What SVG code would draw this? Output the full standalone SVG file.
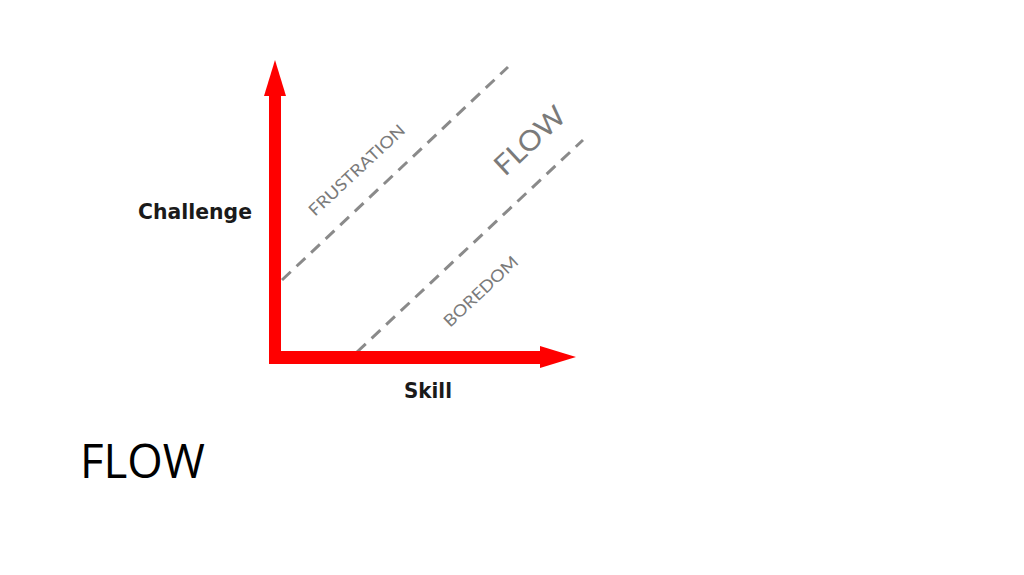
<svg xmlns="http://www.w3.org/2000/svg" width="1024" height="575" viewBox="0 0 1024 575">
<style>
.axis{fill:#ff0000;stroke:none}
.dash{stroke:#8a8a8a;stroke-width:3;stroke-dasharray:12 8;fill:none}
.zone{font-family:Lato,"Open Sans",sans-serif;fill:#7a7a7a}
.lbl{font-family:"DejaVu Sans",Verdana,sans-serif;font-weight:bold;fill:#1a1a1a}
.title{font-family:"Open Sans",Lato,sans-serif;fill:#000}
</style>
<rect width="1024" height="575" fill="#fff"/>
<g id="connectors">
<path class="dash" d="M282 280 L508 67"/>
<path class="dash" d="M357 352 L583 140"/>
</g>
<g id="y-axis">
<rect class="axis" x="269" y="92" width="12" height="272"/>
<polygon class="axis" points="275,60 264,96 286,96"/>
</g>
<g id="x-axis">
<rect class="axis" x="269" y="351" width="276" height="13"/>
<polygon class="axis" points="576,357 540,346 540,368"/>
</g>
<g id="frustration"><text class="zone" font-size="16.5" transform="translate(315,217) rotate(-43)" textLength="125" lengthAdjust="spacingAndGlyphs">FRUSTRATION</text></g>
<g id="flow-zone"><text class="zone" font-size="28" transform="translate(505,177) rotate(-43)" textLength="86" lengthAdjust="spacingAndGlyphs">FLOW</text></g>
<g id="boredom"><text class="zone" font-size="16.5" transform="translate(450,328) rotate(-43)" textLength="95" lengthAdjust="spacingAndGlyphs">BOREDOM</text></g>
<g id="challenge"><text class="lbl" x="138" y="219" font-size="21" textLength="114" lengthAdjust="spacingAndGlyphs">Challenge</text></g>
<g id="skill"><text class="lbl" x="404" y="398" font-size="22" textLength="48" lengthAdjust="spacingAndGlyphs">Skill</text></g>
<g id="title"><text class="title" x="80" y="478" font-size="48" textLength="125" lengthAdjust="spacingAndGlyphs">FLOW</text></g>
</svg>
